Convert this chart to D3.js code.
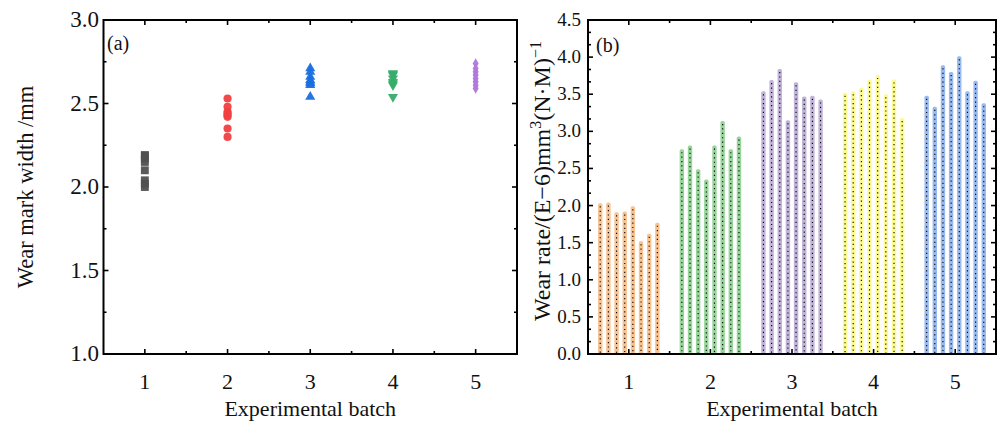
<!DOCTYPE html>
<html>
<head>
<meta charset="utf-8">
<script src="https://cdn.jsdelivr.net/npm/d3@7"></script>
<style>
  body { margin: 0; background: #fff; }
  svg text { font-family: "Liberation Serif", "Times New Roman", serif; fill: #111; }
</style>
</head>
<body>
<div id="chart"></div>
<script>
// (a) wear mark width per batch, 8 samples each
var batches = [1, 2, 3, 4, 5]
var width1 = [2.19, 2.17, 2.15, 2.10, 2.04, 2.00, 2.02, 2.19]
var width2 = [2.53, 2.48, 2.45, 2.43, 2.42, 2.35, 2.30, 2.44]
var width3 = [2.71, 2.69, 2.66, 2.64, 2.63, 2.61, 2.62, 2.54]
var width4 = [2.68, 2.68, 2.67, 2.65, 2.63, 2.62, 2.61, 2.54]
var width5 = [2.74, 2.71, 2.69, 2.67, 2.65, 2.63, 2.61, 2.59]

// (b) wear rate per batch, 8 samples each
var rate1 = [2.03, 2.04, 1.91, 1.92, 1.99, 1.52, 1.62, 1.77]
var rate2 = [2.76, 2.81, 2.49, 2.35, 2.81, 3.14, 2.76, 2.93]
var rate3 = [3.54, 3.69, 3.84, 3.15, 3.66, 3.47, 3.48, 3.43]
var rate4 = [3.52, 3.54, 3.59, 3.70, 3.76, 3.50, 3.70, 3.18]
var rate5 = [3.48, 3.33, 3.89, 3.80, 4.01, 3.54, 3.68, 3.38]

var yTicksA = [1.0, 1.5, 2.0, 2.5, 3.0]
var yTicksB = [0, 0.5, 1.0, 1.5, 2.0, 2.5, 3.0, 3.5, 4.0, 4.5]

var markColors = ['#515151', '#F14040', '#1A6FDF', '#37AD6B', '#B177DE']
var barColors = ['#F9C291', '#97D69A', '#C0B2D9', '#FBFB92', '#98BAF0']

var svg = d3.select('#chart').append('svg')
  .attr('width', 1000).attr('height', 421)

var plotTop = 20, plotBottom = 354

function frame(g, x, y, yTicks, xMinor, yMinor){
  var x0 = x.range()[0], x1 = x.range()[1]
  var y0 = y.range()[0], y1 = y.range()[1]
  var tg = g.append('g')

  // inward ticks on all four sides
  batches.forEach(v => {
    tg.append('line').attr('x1', x(v)).attr('x2', x(v)).attr('y1', y0).attr('y2', y0 - 5)
    tg.append('line').attr('x1', x(v)).attr('x2', x(v)).attr('y1', y1).attr('y2', y1 + 5)
  })
  xMinor.forEach(v => {
    tg.append('line').attr('x1', x(v)).attr('x2', x(v)).attr('y1', y0).attr('y2', y0 - 3)
    tg.append('line').attr('x1', x(v)).attr('x2', x(v)).attr('y1', y1).attr('y2', y1 + 3)
  })
  yTicks.forEach(v => {
    tg.append('line').attr('x1', x0).attr('x2', x0 + 5).attr('y1', y(v)).attr('y2', y(v))
    tg.append('line').attr('x1', x1).attr('x2', x1 - 5).attr('y1', y(v)).attr('y2', y(v))
  })
  yMinor.forEach(v => {
    tg.append('line').attr('x1', x0).attr('x2', x0 + 3).attr('y1', y(v)).attr('y2', y(v))
    tg.append('line').attr('x1', x1).attr('x2', x1 - 3).attr('y1', y(v)).attr('y2', y(v))
  })
  tg.selectAll('line').attr('stroke', '#000').attr('stroke-width', 1.6)

  g.append('rect')
    .attr('x', x0).attr('y', y1)
    .attr('width', x1 - x0).attr('height', y0 - y1)
    .attr('fill', 'none').attr('stroke', '#000').attr('stroke-width', 2)

  g.selectAll('text.xt').data(batches).enter().append('text')
    .attr('class', 'xt')
    .attr('x', d => x(d)).attr('y', y0 + 35)
    .attr('text-anchor', 'middle')
    .style('font-size', '22px')
    .text(d => d)
}

// ---------- panel (a) ----------
var xa = d3.scaleLinear().domain([0.5, 5.5]).range([103.5, 517])
var ya = d3.scaleLinear().domain([1, 3]).range([plotBottom, plotTop])

var ga = svg.append('g')

var shapes = [
  d3.symbol().type(d3.symbolSquare).size(62),
  d3.symbol().type(d3.symbolCircle).size(52),
  d3.symbol().type(d3.symbolTriangle).size(44),
  d3.symbol().type(d3.symbolTriangle).size(44),
  d3.symbol().type(d3.symbolDiamond).size(32)
]
var widths = [width1, width2, width3, width4, width5]

widths.forEach((vals, bi) => {
  ga.selectAll('path.m' + bi).data(vals).enter().append('path')
    .attr('class', 'm' + bi)
    .attr('d', shapes[bi])
    .attr('transform', d => 'translate(' + xa(batches[bi]) + ',' + ya(d) + ')' + (bi == 3 ? ' rotate(180)' : ''))
    .attr('fill', markColors[bi])
    .attr('opacity', 0.95)
})

frame(ga, xa, ya, yTicksA, [1.5, 2.5, 3.5, 4.5], [1.25, 1.75, 2.25, 2.75])

ga.selectAll('text.yt').data(yTicksA).enter().append('text')
  .attr('class', 'yt')
  .attr('x', 99).attr('y', d => ya(d) + 7)
  .attr('text-anchor', 'end')
  .style('font-size', '23px')
  .text(d => d.toFixed(1))

ga.append('text')
  .attr('transform', 'translate(33,' + ya(2) + ') rotate(-90)')
  .attr('text-anchor', 'middle')
  .style('font-size', '22.5px')
  .text('Wear mark width /mm')

ga.append('text')
  .attr('x', (xa(0.5) + xa(5.5))/2).attr('y', 416)
  .attr('text-anchor', 'middle')
  .style('font-size', '22px')
  .text('Experimental batch')

ga.append('text').attr('x', 107).attr('y', 50).style('font-size', '20px').text('(a)')

// ---------- panel (b) ----------
var xb = d3.scaleLinear().domain([0.5, 5.5]).range([588, 996])
var yb = d3.scaleLinear().domain([0, 4.5]).range([plotBottom, plotTop])

var gb = svg.append('g')

var rates = [rate1, rate2, rate3, rate4, rate5]
var barW = 4.4
var step = 0.1

rates.forEach((vals, bi) => {
  var bars = gb.selectAll('g.b' + bi).data(vals).enter().append('g').attr('class', 'b' + bi)
  var cx = (d, i) => xb(batches[bi] + (i - 3.5)*step)

  bars.append('rect')
    .attr('x', (d, i) => cx(d, i) - barW/2)
    .attr('y', d => yb(d))
    .attr('width', barW)
    .attr('height', d => yb(0) - yb(d))
    .attr('rx', 1.6)
    .attr('fill', barColors[bi])

  // dotted hatch down the middle of each bar
  bars.append('line')
    .attr('x1', cx).attr('x2', cx)
    .attr('y1', d => yb(d) + 3).attr('y2', yb(0))
    .attr('stroke', '#000')
    .attr('stroke-width', 1.1)
    .attr('stroke-dasharray', '1.2,3.2')
})

var yMinorB = []
d3.range(0, 4.5, 0.5).forEach(v => yMinorB.push(v + 1/6, v + 2/6))
frame(gb, xb, yb, yTicksB, [1.5, 2.5, 3.5, 4.5], yMinorB)

gb.selectAll('text.yt').data(yTicksB).enter().append('text')
  .attr('class', 'yt')
  .attr('x', 581).attr('y', d => yb(d) + 6)
  .attr('text-anchor', 'end')
  .style('font-size', '19px')
  .text(d => d.toFixed(1))

var yl = gb.append('text')
  .attr('transform', 'translate(550,' + ((plotTop + plotBottom)/2 - 6) + ') rotate(-90)')
  .attr('text-anchor', 'middle')
  .style('font-size', '24px')
yl.append('tspan').text('Wear rate/(E\u22126)mm')
yl.append('tspan').attr('dy', -9).style('font-size', '16px').text('3')
yl.append('tspan').attr('dy', 9).text('(N\u00b7M)')
yl.append('tspan').attr('dy', -9).style('font-size', '16px').text('\u22121')

gb.append('text')
  .attr('x', (xb(0.5) + xb(5.5))/2).attr('y', 416)
  .attr('text-anchor', 'middle')
  .style('font-size', '22px')
  .text('Experimental batch')

gb.append('text').attr('x', 596).attr('y', 52).style('font-size', '20px').text('(b)')
</script>
</body>
</html>
